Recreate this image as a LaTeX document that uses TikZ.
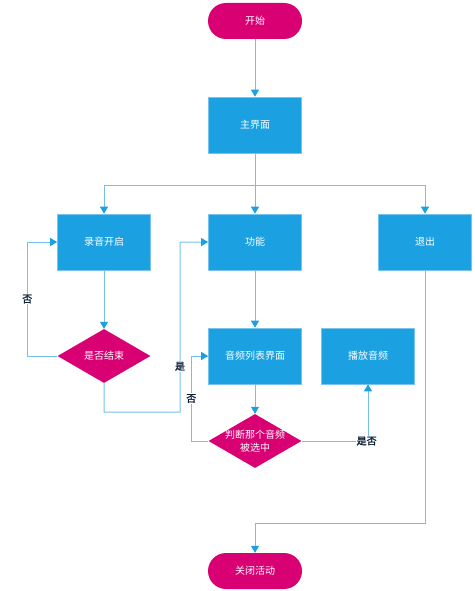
\documentclass[tikz,border=0pt]{standalone}
\usepackage{fontspec}
\setmainfont{Noto Sans CJK SC}
\newfontfamily\labfont[FakeBold=1.5]{Noto Sans CJK SC}
\usetikzlibrary{shapes.geometric,arrows.meta}
\definecolor{boxblue}{RGB}{27,161,226}
\definecolor{boxedge}{RGB}{120,196,236}
\definecolor{mag}{RGB}{216,0,115}
\definecolor{lineblue}{RGB}{115,192,234}
\definecolor{lbl}{RGB}{12,32,56}
\begin{document}
\begin{tikzpicture}[x=1pt,y=-1pt,
  txt/.style={text=white,font=\fontsize{10}{13}\selectfont},
  box/.style={txt,rectangle,fill=boxblue,draw=boxedge,line width=0.6pt,minimum width=93pt,minimum height=56pt,inner sep=0pt},
  pill/.style={txt,rectangle,rounded corners=18pt,fill=mag,minimum width=94pt,minimum height=36pt,inner sep=0pt},
  dia/.style={diamond,fill=mag,minimum width=93pt,minimum height=54pt,inner sep=0pt},
  conn/.style={draw=lineblue,line width=1pt,-{Triangle[width=8pt,length=7pt,color=boxblue]}},
  lab/.style={fill=white,text=lbl,inner sep=1pt,font=\labfont\fontsize{10}{12}\selectfont}]
\useasboundingbox (0,0) rectangle (474,591);
% nodes
\node[pill] (start) at (255,21) {开始};
\node[box] (main) at (255,125) {主界面};
\node[box] (luyin) at (104,242) {录音开启};
\node[box] (gong) at (255,242) {功能};
\node[box] (tui) at (425,242) {退出};
\node[dia] (d1) at (104,356) {};
\node[txt] (d1t) at (d1) {是否结束};
\node[box] (list) at (255,356) {音频列表界面};
\node[box] (play) at (368,356) {播放音频};
\node[dia] (d2) at (255,441) {};
\node[txt,align=center] (d2t) at (d2) {判断那个音频\\被选中};
\node[pill] (end) at (255,571) {关闭活动};
% connectors
\coordinate (br) at (255,185);
\draw[conn] (start) -- (main);
\draw[conn] (main.south) -- (gong.north);
\draw[conn] (br) -| (luyin.north);
\draw[conn] (br) -| (tui.north);
\draw[conn] (luyin) -- (d1);
\draw[conn] (d1.west) -- ++(-30,0) |- node[lab,pos=0.25] {否} (luyin.west);
\draw[conn] (d1.south) -- ++(0,29) -| node[lab,pos=0.635] {是} ++(76,-170) -- (gong.west);
\draw[conn] (gong) -- (list);
\draw[conn] (list) -- (d2);
\draw[conn] (d2.west) -- ++(-17,0) |- node[lab,pos=0.25] {否} (list.west);
\draw[conn] (d2.east) -| node[lab,pos=0.49] {是否} (play.south);
\draw[conn] (tui.south) -- ++(0,253) -| (end.north);
\end{tikzpicture}
\end{document}
